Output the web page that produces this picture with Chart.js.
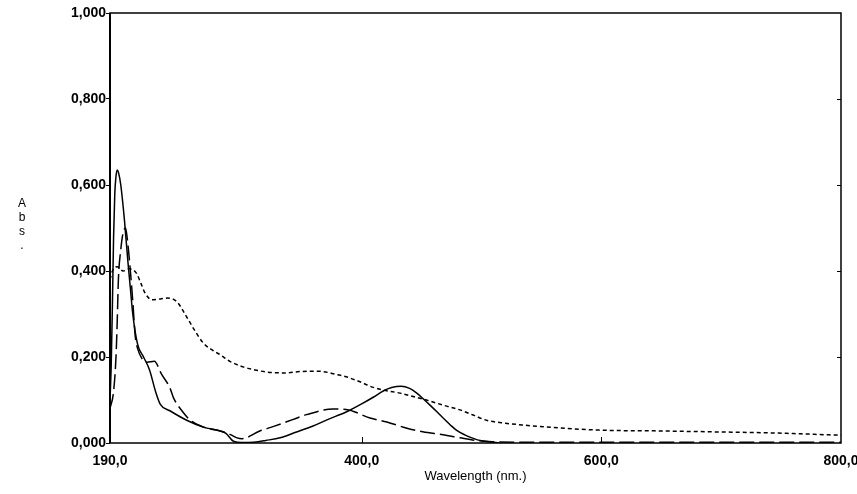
<!DOCTYPE html>
<html>
<head>
<meta charset="utf-8">
<title>Abs spectrum</title>
<script src="https://cdn.jsdelivr.net/npm/chart.js@4"></script>
<style>
  html, body { margin: 0; padding: 0; background: #fff; }
  canvas { display: block; }
</style>
</head>
<body>
<canvas id="spectrum" width="857" height="494"></canvas>
<script>
// axis ticks
const xTicks = [190, 400, 600, 800];
const yTicks = [0, 0.2, 0.4, 0.6, 0.8, 1.0];

// solid curve
const solidNm = [190, 191, 192, 193, 194, 195, 196, 197, 199, 202, 205, 207, 209, 213, 218, 223, 228, 232, 240, 254, 268, 282, 287, 293, 300, 310, 320, 332, 345, 359, 372, 387, 400, 410, 418, 425, 433, 440, 446, 452, 457, 463, 468, 474, 479, 486, 492, 500, 509, 515];
const solidAbs = [0.10, 0.18, 0.32, 0.48, 0.58, 0.62, 0.635, 0.63, 0.60, 0.52, 0.42, 0.36, 0.30, 0.23, 0.20, 0.17, 0.12, 0.09, 0.075, 0.053, 0.037, 0.028, 0.022, 0.004, 0.001, 0.002, 0.006, 0.012, 0.025, 0.039, 0.055, 0.072, 0.091, 0.107, 0.121, 0.129, 0.132, 0.127, 0.116, 0.101, 0.088, 0.072, 0.058, 0.042, 0.030, 0.019, 0.012, 0.005, 0.002, 0.0];

// long dashed curve
const dashNm = [190, 193, 195, 196, 197, 199, 201, 203, 205, 207, 209, 211, 213, 217, 221, 227, 233, 240, 243, 250, 257, 268, 282, 290, 296, 300, 315, 326, 343, 354, 376, 387, 407, 421, 437, 451, 468, 482, 495, 509, 530, 600, 700, 800];
const dashAbs = [0.08, 0.12, 0.20, 0.28, 0.38, 0.45, 0.49, 0.50, 0.46, 0.40, 0.33, 0.25, 0.22, 0.195, 0.188, 0.19, 0.16, 0.128, 0.105, 0.075, 0.053, 0.037, 0.028, 0.02, 0.012, 0.01, 0.028, 0.038, 0.055, 0.066, 0.079, 0.078, 0.058, 0.049, 0.035, 0.026, 0.019, 0.012, 0.006, 0.003, 0.002, 0.002, 0.002, 0.002];

// short dashed curve
const dotNm = [190, 192, 196, 201, 206, 212, 216, 219, 225, 232, 238, 246, 254, 260, 268, 276, 282, 290, 301, 311, 321, 337, 348, 360, 368, 378, 387, 398, 409, 420, 432, 443, 454, 468, 482, 493, 504, 520, 534, 560, 598, 650, 692, 748, 790, 800];
const dotAbs = [0.38, 0.40, 0.41, 0.40, 0.405, 0.395, 0.37, 0.35, 0.333, 0.335, 0.337, 0.328, 0.293, 0.265, 0.232, 0.215, 0.205, 0.19, 0.177, 0.17, 0.165, 0.163, 0.166, 0.167, 0.166, 0.16, 0.154, 0.143, 0.13, 0.122, 0.116, 0.108, 0.10, 0.088, 0.077, 0.065, 0.053, 0.046, 0.042, 0.036, 0.030, 0.028, 0.026, 0.023, 0.019, 0.018];

function pts(xs, ys) {
  return xs.map((x, i) => ({ x: x, y: ys[i] }));
}
function comma(v, d) {
  return v.toFixed(d).replace('.', ',');
}

// frame, inside ticks and the stacked "Abs." label
const framePlugin = {
  id: 'frame',
  afterDraw(chart) {
    const ctx = chart.ctx;
    const a = chart.chartArea;
    const xs = chart.scales.x;
    const ys = chart.scales.y;
    ctx.save();
    ctx.strokeStyle = '#000';
    ctx.lineWidth = 1.5;
    ctx.strokeRect(a.left, a.top, a.right - a.left, a.bottom - a.top);
    ctx.lineWidth = 2;
    ctx.beginPath();
    ctx.moveTo(a.left, a.top);
    ctx.lineTo(a.left, a.bottom);
    ctx.stroke();
    ctx.lineWidth = 1;
    ctx.beginPath();
    xTicks.slice(1, -1).forEach(v => {
      const px = Math.round(xs.getPixelForValue(v)) + 0.5;
      ctx.moveTo(px, a.bottom);
      ctx.lineTo(px, a.bottom - 6);
    });
    yTicks.slice(1, -1).forEach(v => {
      const py = Math.round(ys.getPixelForValue(v)) + 0.5;
      ctx.moveTo(a.right, py);
      ctx.lineTo(a.right - 4, py);
    });
    ctx.stroke();

    ctx.fillStyle = '#000';
    ctx.font = '12px "Liberation Sans", Arial, sans-serif';
    ctx.textAlign = 'center';
    ctx.textBaseline = 'middle';
    ['A', 'b', 's', '.'].forEach((ch, i) => {
      ctx.fillText(ch, 22, 204 + i * 14);
    });
    ctx.restore();
  }
};

const font = { family: '"Liberation Sans", Arial, sans-serif', size: 14, weight: 'bold' };

new Chart(document.getElementById('spectrum'), {
  type: 'line',
  data: {
    datasets: [
      {
        label: 'solid',
        data: pts(solidNm, solidAbs),
        borderColor: '#000',
        borderWidth: 1.5,
        pointRadius: 0,
        cubicInterpolationMode: 'monotone'
      },
      {
        label: 'long dash',
        data: pts(dashNm, dashAbs),
        borderColor: '#000',
        borderWidth: 1.5,
        borderDash: [15, 5],
        pointRadius: 0,
        cubicInterpolationMode: 'monotone'
      },
      {
        label: 'short dash',
        data: pts(dotNm, dotAbs),
        borderColor: '#000',
        borderWidth: 1.5,
        borderDash: [4, 3],
        pointRadius: 0,
        cubicInterpolationMode: 'monotone'
      }
    ]
  },
  options: {
    responsive: false,
    animation: false,
    devicePixelRatio: 1,
    layout: { padding: { top: 13, right: 16, left: 0, bottom: 0 } },
    plugins: {
      legend: { display: false },
      tooltip: { enabled: false }
    },
    scales: {
      x: {
        type: 'linear',
        min: 190,
        max: 800,
        afterBuildTicks: s => { s.ticks = xTicks.map(v => ({ value: v })); },
        afterFit: s => { s.height = 51; s.paddingLeft = 0; s.paddingRight = 0; },
        grid: { display: true, drawOnChartArea: false, drawTicks: false },
        border: { display: false },
        ticks: {
          color: '#000',
          font: font,
          padding: 10,
          maxRotation: 0,
          autoSkip: false,
          callback: v => comma(v, 1)
        },
        title: {
          display: true,
          text: 'Wavelength (nm.)',
          color: '#000',
          font: { family: font.family, size: 13 },
          padding: { top: 0, bottom: 10 }
        }
      },
      y: {
        min: 0,
        max: 1,
        afterBuildTicks: s => { s.ticks = yTicks.map(v => ({ value: v })); },
        afterFit: s => { s.width = 110; s.paddingTop = 0; s.paddingBottom = 0; },
        grid: { drawOnChartArea: false, tickLength: 4, color: '#000' },
        border: { display: false },
        ticks: {
          color: '#000',
          font: font,
          padding: 0,
          callback: v => comma(v, 3)
        }
      }
    }
  },
  plugins: [framePlugin]
});
</script>
</body>
</html>
